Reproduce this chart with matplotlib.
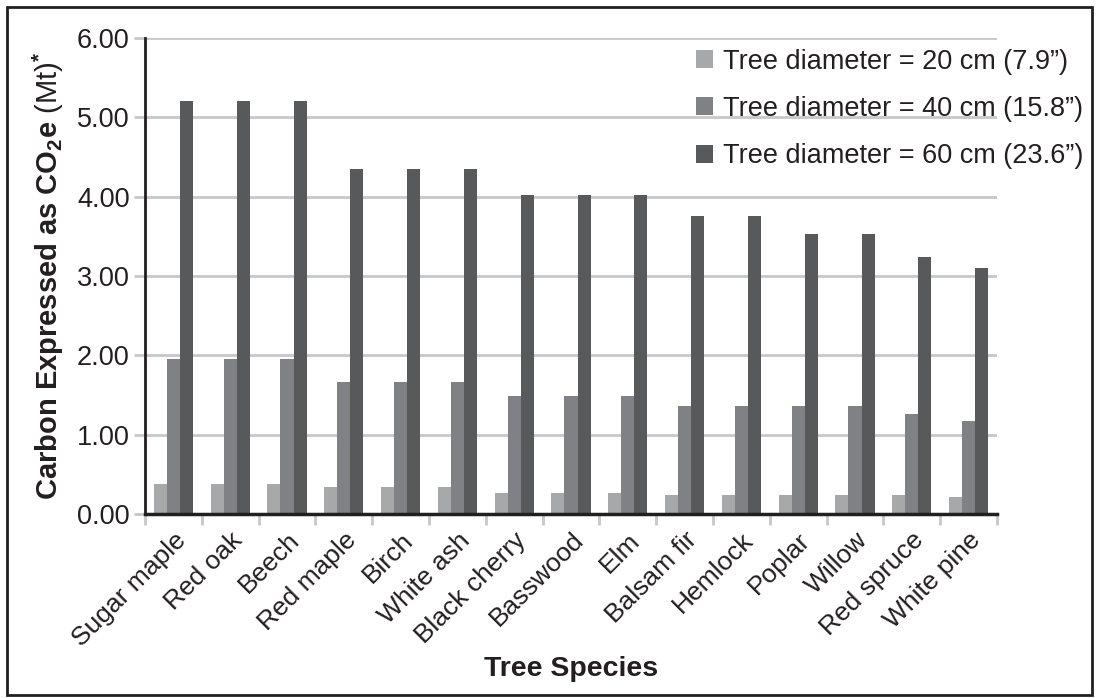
import numpy as np
import matplotlib
matplotlib.use("Agg")
import matplotlib.pyplot as plt
from matplotlib.patches import Rectangle

plt.rcParams['font.family'] = ['Liberation Sans', 'DejaVu Sans']
plt.rcParams['mathtext.fontset'] = 'custom'
plt.rcParams['mathtext.rm'] = 'Liberation Sans'
plt.rcParams['mathtext.bf'] = 'Liberation Sans:bold'
plt.rcParams['mathtext.it'] = 'Liberation Sans:italic'

# Data
species = ['Sugar maple', 'Red oak', 'Beech', 'Red maple', 'Birch', 'White ash',
           'Black cherry', 'Basswood', 'Elm', 'Balsam fir', 'Hemlock', 'Poplar',
           'Willow', 'Red spruce', 'White pine']
d20 = [0.38, 0.38, 0.38, 0.34, 0.34, 0.34, 0.26, 0.26, 0.26, 0.24, 0.24, 0.24, 0.24, 0.24, 0.22]
d40 = [1.95, 1.95, 1.95, 1.66, 1.66, 1.66, 1.49, 1.49, 1.49, 1.36, 1.36, 1.36, 1.36, 1.26, 1.17]
d60 = [5.20, 5.20, 5.20, 4.35, 4.35, 4.35, 4.02, 4.02, 4.02, 3.75, 3.75, 3.53, 3.53, 3.24, 3.10]
series_labels = ['Tree diameter = 20 cm (7.9\u201d)',
                 'Tree diameter = 40 cm (15.8\u201d)',
                 'Tree diameter = 60 cm (23.6\u201d)']
colors = ['#a7a8aa', '#808184', '#58595b']
yticks = [0, 1, 2, 3, 4, 5, 6]

fig = plt.figure(figsize=(10.96, 6.98), dpi=100)
ax = fig.add_axes([0.1323, 0.2636, 0.7774, 0.682])

x = np.arange(len(species))
w = 0.23
for i, (vals, lab, c) in enumerate(zip([d20, d40, d60], series_labels, colors)):
    ax.bar(x + (i - 1) * w, vals, width=w, color=c, label=lab, zorder=3)

ax.set_xlim(-0.5, len(species) - 0.5)
ax.set_ylim(0, 6)
ax.set_yticks(yticks)
ax.set_yticklabels([f'{v:.2f}' for v in yticks], fontsize=19.5, color='#231f20')
ax.yaxis.grid(True, color='#c7c8ca', linewidth=2, zorder=0)
ax.tick_params(axis='y', length=8, width=2, color='#c7c8ca', pad=3)

ax.set_xticks(x)
ax.set_xticklabels(species, rotation=45, ha='right', rotation_mode='anchor',
                   fontsize=19, color='#231f20')
ax.tick_params(axis='x', which='major', length=0, pad=10)
ax.set_xticks(np.arange(-0.5, len(species)), minor=True)
ax.tick_params(axis='x', which='minor', length=8, width=2, color='#c7c8ca')

for s in ['top', 'right']:
    ax.spines[s].set_visible(False)
ax.spines['left'].set_linewidth(2)
ax.spines['left'].set_color('#231f20')
ax.spines['bottom'].set_linewidth(2.5)
ax.spines['bottom'].set_color('#231f20')
ax.spines['bottom'].set_zorder(4)

ax.set_ylabel(r'$\mathbf{Carbon\ Expressed\ as\ CO_2e}$ (Mt)$^{\mathbf{*}}$',
              fontsize=21, color='#231f20', labelpad=8)
ax.set_xlabel('Tree Species', fontsize=20.5, fontweight='bold', color='#231f20', labelpad=4)

leg = ax.legend(loc='upper right', bbox_to_anchor=(1.114, 1.0), frameon=False,
                fontsize=19.5, handlelength=0.65, handleheight=0.65, handletextpad=0.35,
                labelspacing=0.78, borderaxespad=0)
for t in leg.get_texts():
    t.set_color('#231f20')

fig.patches.append(Rectangle((0.0064, 0.0043), 0.990, 0.9857, transform=fig.transFigure,
                             fill=False, edgecolor='#231f20', linewidth=2))

fig.savefig('out.png', dpi=100)
